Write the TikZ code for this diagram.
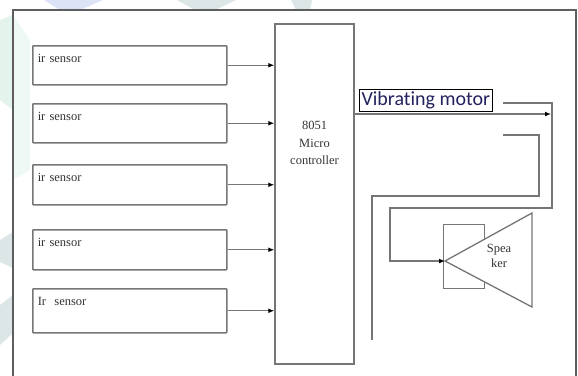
\documentclass[tikz,border=0pt]{standalone}
\usepackage{fontspec}
\setmainfont{Liberation Serif}
\newfontfamily\calib[Ligatures=NoCommon]{Carlito}
\usetikzlibrary{arrows.meta}
\definecolor{lineg}{HTML}{767676}
\definecolor{frameg}{HTML}{5E5E5E}
\definecolor{txtg}{HTML}{333333}
\definecolor{navy}{HTML}{22225E}
\definecolor{wmblue}{HTML}{DCE3F6}
\definecolor{wmteal}{HTML}{DDE6E6}
\definecolor{wmmint}{HTML}{E2F4EC}
\tikzset{
  sensorbox/.style={draw=lineg, line width=1.5pt, rounded corners=0.8pt,
    minimum width=194pt, text width=184pt, align=left, inner xsep=5pt,
    inner ysep=3pt, text height=14pt, text depth=19pt,
    font=\fontsize{12.5}{14}\selectfont, text=txtg, anchor=north west},
  conn/.style={draw=lineg, line width=1.4pt},
  arr/.style={conn, -{Latex[length=6pt,width=5pt,black]}},
  mcbox/.style={draw=lineg, line width=1.5pt, minimum width=79pt, minimum height=340pt, inner sep=0pt},
  smalltxt/.style={font=\fontsize{12.5}{17.5}\selectfont, text=txtg, align=center}
}
\begin{document}
\begin{tikzpicture}[x=1pt,y=-1pt]
\useasboundingbox (0,0) rectangle (578,375);
% faint watermark
\fill[wmblue] (44,0) -- (103,0) -- (80,10) -- (60,10) -- cycle;
\fill[wmteal] (177,0) -- (236,0) -- (215,10) -- (195,10) -- cycle;
\fill[wmteal] (291,0) -- (312,0) -- (310,10) -- (296,10) -- cycle;
\fill[wmmint] (0,20) -- (13,15) -- (13,110) -- (0,100) -- cycle;
\fill[wmmint, opacity=0.6] (13,15) -- (30,40) -- (30,170) -- (13,180) -- cycle;
\fill[wmteal] (0,240) -- (13,232) -- (13,268) -- (0,262) -- cycle;
\fill[wmteal] (0,305) -- (13,295) -- (13,333) -- (0,345) -- cycle;
% outer frame
\draw[frameg, line width=1.2pt] (13,380) -- (13,10) -- (576,10) -- (576,380);
% sensors
\node[sensorbox] (s1) at (32,45) {ir sensor};
\node[sensorbox] (s2) at (32,103) {ir sensor};
\node[sensorbox, text depth=20pt] (s3) at (32,164) {ir sensor};
\node[sensorbox, text depth=20pt] (s4) at (32,229) {ir sensor};
\node[sensorbox, text depth=24pt] (s5) at (32,288) {Ir\ \ sensor};
% microcontroller
\node[mcbox] (mc) at (314.5,194) {};
\node[smalltxt] (mct) at (314.5,143) {8051\\Micro\\controller};
% sensor arrows
\foreach \i in {1,...,5}{
  \draw[arr] (s\i.east) -- (s\i.east -| mc.west);
}
% vibrating motor
\node[draw=black, line width=1.1pt, inner xsep=2pt, inner ysep=0pt, minimum height=22pt,
  font=\calib\fontsize{20}{21}\selectfont, text=navy, anchor=north west] (vm) at (359,89) {Vibrating motor};
\coordinate (vmend) at (551,114);
\draw[arr] (vmend -| mc.east) -- (vmend);
% speaker
\node[draw=lineg, line width=1.3pt, minimum width=41pt, minimum height=64pt, inner sep=0pt, anchor=north west] (spk) at (443,224) {};
\coordinate (apex) at (445,261);
\coordinate (tt) at (532,213);
\coordinate (tb) at (532,307);
\filldraw[draw=lineg, fill=white, line width=1.3pt] (apex) -- (tt) -- (tb) -- cycle;
\node[smalltxt, font=\fontsize{12.5}{15}\selectfont] (spkt) at (499,256) {Spea\\ker};
% wires
\coordinate (a0) at (503,103);
\coordinate (a1) at (552,103);
\coordinate (a2) at (552,208);
\coordinate (a3) at (390,208);
\coordinate (a4) at (390,261);
\draw[arr] (a0) -- (a1) -- (a2) -- (a3) -- (a4) -- (apex);
\coordinate (b0) at (503,135);
\coordinate (b1) at (539,135);
\coordinate (b2) at (539,196);
\coordinate (b3) at (372,196);
\coordinate (b4) at (372,340);
\draw[conn] (b0) -- (b1) -- (b2) -- (b3) -- (b4);
\end{tikzpicture}
\end{document}
